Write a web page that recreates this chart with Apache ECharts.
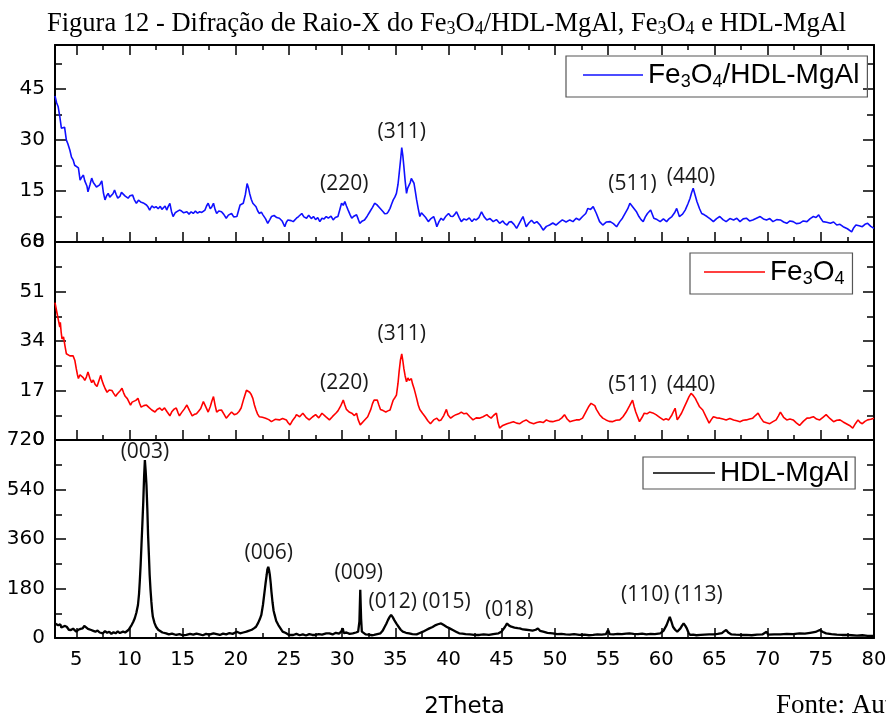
<!DOCTYPE html>
<html>
<head>
<meta charset="utf-8">
<title>Difração de Raio-X</title>
<script src="https://cdn.jsdelivr.net/npm/echarts@6/dist/echarts.min.js"></script>
<style>
  html, body { margin: 0; padding: 0; background: #fff; }
  #chart { width: 886px; height: 715px; }
</style>
</head>
<body>
<div id="chart"></div>
<script>
// 2θ range shared by the three panels
const twoThetaMin = 3;
const twoThetaMax = 80;
const xMajorTicks = [5, 10, 15, 20, 25, 30, 35, 40, 45, 50, 55, 60, 65, 70, 75, 80];
const xMinorTicks = [7.5, 12.5, 17.5, 22.5, 27.5, 32.5, 37.5, 42.5, 47.5, 52.5, 57.5, 62.5, 67.5, 72.5, 77.5];

// intensity axes (ticks and range) for each panel
const compositeYMax = 58;
const compositeYTicks = [0, 15, 30, 45];
const compositeYMinor = [7.5, 22.5, 37.5, 52.5];
const magnetiteYMax = 68;
const magnetiteYTicks = [0, 17, 34, 51, 68];
const magnetiteYMinor = [8.5, 25.5, 42.5, 59.5];
const ldhYMax = 720;
const ldhYTicks = [0, 180, 360, 540, 720];
const ldhYMinor = [90, 270, 450, 630];

// series names
const compositeName = 'Fe3O4/HDL-MgAl';
const magnetiteName = 'Fe3O4';
const ldhName = 'HDL-MgAl';

// diffractogram Fe3O4/HDL-MgAl: [2θ, intensity]
const compositeXrd = [
[3.0,43],[3.15,41],[3.3,39.8],[3.45,36.9],[3.6,33.5],[3.75,33],[3.9,33.8],[4.07,30],[4.2,29],[4.4,27],[4.55,25],[4.7,24.2],[4.85,22.6],[5.0,22.8],[5.2,21.8],[5.36,18.2],[5.5,19],[5.67,19.7],[5.8,18],[6.0,16.5],[6.1,14.8],[6.3,17],[6.45,18.8],[6.6,17.5],[6.76,17.3],[6.9,16.2],[7.05,15.9],[7.2,16.8],[7.4,18],[7.55,14.5],[7.7,12.4],[7.85,13.6],[8.0,14.3],[8.15,13.2],[8.3,13.3],[8.45,14.2],[8.6,15.3],[8.75,14],[8.9,12.9],[9.1,13.4],[9.25,14.6],[9.4,14.3],[9.6,13.5],[9.87,12.9],[10.05,13.6],[10.3,13.8],[10.45,12.5],[10.65,11.4],[10.85,12.3],[11.05,11.8],[11.3,11.5],[11.45,11.9],[11.6,10.9],[11.75,10.3],[11.9,9.4],[12.1,10.6],[12.3,10.1],[12.5,10.4],[12.7,9.8],[12.9,10.5],[13.05,9.6],[13.2,9.9],[13.35,10.6],[13.5,9.4],[13.65,10.5],[13.8,11.4],[13.95,9.0],[14.1,7.5],[14.3,8.6],[14.5,9.0],[14.7,9.4],[14.9,9.1],[15.1,8.6],[15.4,8.9],[15.6,8.2],[15.8,8.9],[16.0,8.4],[16.2,9.1],[16.4,8.5],[16.6,8.9],[16.8,8.7],[17.1,9.4],[17.25,10.6],[17.4,11.4],[17.6,9.8],[17.75,10.4],[17.9,11.4],[18.05,9.6],[18.2,8.4],[18.4,9.1],[18.65,8.9],[18.85,8.2],[19.1,7.0],[19.3,7.9],[19.6,8.4],[19.8,7.4],[20.1,7.5],[20.25,9.2],[20.4,10.9],[20.55,10.4],[20.7,11.4],[20.9,14],[21.06,17.2],[21.2,15.8],[21.3,14.3],[21.45,12.6],[21.6,11.4],[21.75,11.9],[21.9,10.4],[22.05,9.2],[22.2,8.4],[22.4,8.8],[22.55,8.0],[22.8,6.8],[23.0,5.5],[23.2,6.6],[23.35,7.5],[23.6,7.8],[23.85,7.2],[24.1,7.0],[24.35,6.2],[24.6,4.5],[24.75,5.8],[24.9,6.5],[25.0,6.5],[25.2,6.3],[25.4,6.0],[25.7,7.0],[25.9,7.5],[26.05,7.2],[26.2,8.4],[26.4,7.4],[26.65,7.0],[26.85,7.9],[27.1,6.9],[27.3,7.5],[27.5,6.6],[27.7,7.2],[27.9,6.0],[28.1,7.0],[28.3,6.8],[28.5,7.5],[28.7,7.0],[28.95,7.6],[29.15,6.5],[29.35,7.2],[29.6,7.5],[29.8,9.8],[29.94,11.4],[30.1,10.8],[30.25,11.9],[30.4,10.6],[30.56,9.4],[30.75,8.0],[30.9,7.0],[31.1,7.6],[31.35,8.0],[31.5,6.8],[31.65,5.5],[31.9,6.2],[32.1,6.5],[32.35,7.6],[32.6,8.9],[32.85,10.2],[33.05,11.4],[33.25,11.0],[33.4,10.9],[33.6,9.8],[33.85,8.9],[34.0,8.3],[34.2,8.4],[34.35,9.0],[34.5,9.9],[34.65,11.2],[34.8,12.4],[34.95,13.2],[35.1,14.3],[35.25,17.0],[35.36,20.2],[35.5,24.5],[35.6,27.8],[35.7,25.5],[35.8,22.2],[35.92,18],[36.05,14.3],[36.15,15.8],[36.3,16.3],[36.4,17.5],[36.5,18.7],[36.62,18.2],[36.75,17.3],[36.88,14.8],[37.0,12.4],[37.15,9.8],[37.3,7.5],[37.45,8.6],[37.6,8.4],[37.85,7.2],[38.1,6.0],[38.35,6.9],[38.6,7.5],[38.75,6.2],[38.9,4.5],[39.1,6.0],[39.3,7.0],[39.5,6.4],[39.75,7.6],[40.0,8.4],[40.2,7.6],[40.4,7.5],[40.6,8.2],[40.75,8.9],[41.0,7.2],[41.2,6.0],[41.45,6.8],[41.7,6.5],[41.95,7.1],[42.2,6.0],[42.4,6.8],[42.6,6.5],[42.85,7.2],[43.1,8.9],[43.35,7.4],[43.6,6.5],[43.9,6.9],[44.2,6.0],[44.5,6.6],[44.8,5.5],[45.1,6.2],[45.3,5.4],[45.5,5.0],[45.7,5.9],[45.9,6.0],[46.15,5.2],[46.4,4.0],[46.7,5.8],[47.0,7.5],[47.15,6.0],[47.3,4.5],[47.55,5.6],[47.8,6.4],[48.05,5.5],[48.3,6.0],[48.6,5.0],[48.9,3.5],[49.2,4.6],[49.5,5.0],[49.8,5.6],[50.1,5.0],[50.4,5.8],[50.7,6.5],[51.05,5.9],[51.4,6.5],[51.7,6.0],[52.0,7.0],[52.3,6.5],[52.6,7.5],[52.9,8.4],[53.1,9.9],[53.35,9.6],[53.6,10.4],[53.75,9.9],[53.9,8.4],[54.2,6.0],[54.5,5.0],[54.85,5.9],[55.2,6.0],[55.5,5.4],[55.8,4.5],[56.1,6.0],[56.35,7.0],[56.6,8.4],[56.85,9.8],[57.05,11.4],[57.25,10.6],[57.4,10.9],[57.65,9.0],[57.9,7.5],[58.1,6.6],[58.3,6.0],[58.5,7.4],[58.7,8.4],[59.0,9.4],[59.3,7.0],[59.6,6.6],[59.9,6.0],[60.2,6.8],[60.5,6.0],[60.75,6.9],[61.0,7.5],[61.25,8.6],[61.45,9.9],[61.7,7.5],[62.0,8.2],[62.25,9.4],[62.5,11.2],[62.7,12.8],[62.85,14.5],[63.0,15.8],[63.2,13.6],[63.35,11.9],[63.6,9.8],[63.8,8.4],[64.05,8.0],[64.3,7.5],[64.6,6.8],[64.9,6.0],[65.2,6.9],[65.5,7.5],[65.8,6.6],[66.1,6.0],[66.45,6.9],[66.8,6.5],[67.1,7.0],[67.4,6.0],[67.7,6.8],[68.0,7.0],[68.3,6.2],[68.6,6.5],[68.95,7.0],[69.3,7.5],[69.6,6.8],[69.9,6.5],[70.2,6.9],[70.5,6.0],[70.85,6.6],[71.2,6.5],[71.5,5.9],[71.8,5.5],[72.1,6.2],[72.4,6.0],[72.7,5.4],[73.0,5.5],[73.35,6.2],[73.7,6.0],[74.0,6.9],[74.3,7.5],[74.55,7.2],[74.8,8.0],[75.0,6.9],[75.2,6.0],[75.55,5.8],[75.9,5.5],[76.2,5.9],[76.5,5.0],[76.8,5.2],[77.1,4.5],[77.5,3.9],[77.9,3.0],[78.1,4.2],[78.3,5.0],[78.6,4.8],[78.9,4.5],[79.15,5.2],[79.4,5.5],[79.7,4.6],[80.0,4.0]
];

// diffractogram Fe3O4: [2θ, intensity]
const magnetiteXrd = [
[3.0,47.2],[3.15,44.3],[3.3,41.5],[3.45,38.8],[3.5,40.4],[3.58,37],[3.66,34.7],[3.8,35.4],[3.93,32.5],[4.07,29.6],[4.2,29.8],[4.4,28.9],[4.55,29.4],[4.7,28.9],[4.87,27.3],[5.0,24.5],[5.1,22.6],[5.2,21.1],[5.35,22.4],[5.5,21.8],[5.65,21.4],[5.8,20.5],[5.95,21.6],[6.1,23.4],[6.28,21.2],[6.45,19.7],[6.6,20.6],[6.77,19.1],[6.95,18.4],[7.1,17.8],[7.3,22.2],[7.42,20.4],[7.55,19.1],[7.72,17.6],[7.9,16.4],[8.1,17.2],[8.35,17.0],[8.5,16.1],[8.7,15.0],[8.85,15.8],[9.0,16.4],[9.15,17.0],[9.3,17.8],[9.45,16.2],[9.6,15.0],[9.8,14.2],[9.95,13.1],[10.1,12.0],[10.25,13.0],[10.4,12.7],[10.6,13.6],[10.8,14.3],[10.95,12.6],[11.1,11.3],[11.35,11.8],[11.6,12.0],[11.85,11.1],[12.1,10.3],[12.25,10.8],[12.4,9.6],[12.6,10.5],[12.85,11.0],[13.05,10.2],[13.3,11.0],[13.55,9.6],[13.8,8.3],[14.0,9.8],[14.2,10.6],[14.4,11.0],[14.55,9.5],[14.7,8.3],[14.9,9.4],[15.15,10.6],[15.4,12.0],[15.65,10.1],[15.9,8.3],[16.1,8.8],[16.3,9.0],[16.5,9.9],[16.7,10.8],[16.95,13.2],[17.2,11.2],[17.4,9.6],[17.6,11.5],[17.75,13.4],[17.9,14.9],[18.05,12.0],[18.2,9.6],[18.4,10.2],[18.65,10.3],[18.9,8.8],[19.1,7.5],[19.35,8.6],[19.6,9.6],[19.85,8.7],[20.1,9.0],[20.3,9.8],[20.5,11.0],[20.75,14.2],[21.0,17.1],[21.15,16.8],[21.3,16.4],[21.45,15.6],[21.6,14.3],[21.75,12.0],[21.9,10.3],[22.05,8.9],[22.2,8.0],[22.5,7.8],[22.8,7.5],[23.1,7.0],[23.35,6.3],[23.7,7.1],[24.1,6.9],[24.4,7.4],[24.75,6.9],[24.9,6.0],[25.1,5.2],[25.35,6.8],[25.6,8.0],[25.7,8.7],[26.0,8.0],[26.3,9.2],[26.6,7.8],[26.9,6.9],[27.2,7.9],[27.5,8.7],[27.8,7.6],[28.1,9.2],[28.45,8.0],[28.8,6.9],[29.1,8.1],[29.4,9.2],[29.6,10.0],[29.85,11.6],[30.1,13.7],[30.25,12.0],[30.4,10.5],[30.65,9.6],[30.9,9.2],[31.15,8.4],[31.35,9.2],[31.5,7.0],[31.7,5.2],[32.05,6.6],[32.4,8.0],[32.7,10.6],[32.85,12.5],[33.0,13.7],[33.15,13.2],[33.3,13.7],[33.45,12.0],[33.6,10.5],[33.85,10.1],[34.1,9.6],[34.3,10.0],[34.5,10.3],[34.65,12.0],[34.8,13.7],[34.95,14.5],[35.1,15.4],[35.25,19.5],[35.35,23.4],[35.48,27.5],[35.6,29.6],[35.7,27.3],[35.8,24.5],[35.92,22],[36.05,20.0],[36.18,21.3],[36.3,20.5],[36.4,20.0],[36.5,21.1],[36.62,19.2],[36.75,17.8],[36.88,16.0],[37.0,14.3],[37.15,12.0],[37.3,10.5],[37.55,9.2],[37.8,8.0],[38.05,6.6],[38.3,5.6],[38.6,6.9],[38.9,7.5],[39.1,6.6],[39.3,6.9],[39.55,8.4],[39.8,10.5],[39.95,8.6],[40.2,7.5],[40.45,8.2],[40.7,8.7],[40.95,9.0],[41.2,9.6],[41.45,9.0],[41.7,9.2],[42.0,8.0],[42.3,6.9],[42.6,7.6],[42.9,7.5],[43.25,8.0],[43.6,8.7],[43.8,8.0],[44.0,7.5],[44.25,8.5],[44.5,9.2],[44.65,6.0],[44.8,4.1],[45.1,5.0],[45.5,5.6],[45.8,5.9],[46.1,6.3],[46.4,5.8],[46.7,5.6],[47.0,6.4],[47.3,6.9],[47.65,6.0],[48.0,5.6],[48.3,6.0],[48.6,6.3],[48.9,6.0],[49.2,6.9],[49.5,6.4],[49.8,6.3],[50.1,6.6],[50.4,6.9],[50.65,7.6],[50.9,8.7],[51.15,7.2],[51.4,6.3],[51.7,6.6],[52.0,6.9],[52.3,6.9],[52.6,7.5],[52.9,9.6],[53.2,11.6],[53.4,12.6],[53.55,13.2],[53.75,11.8],[53.9,10.5],[54.2,8.7],[54.5,7.5],[54.8,6.9],[55.1,6.4],[55.4,6.3],[55.75,6.8],[56.1,6.9],[56.4,8.0],[56.7,9.6],[57.0,11.6],[57.3,13.7],[57.45,11.5],[57.6,9.6],[57.95,6.3],[58.2,7.8],[58.4,9.2],[58.65,9.0],[58.9,9.6],[59.2,9.3],[59.5,8.7],[59.85,7.8],[60.2,6.9],[60.45,7.3],[60.7,6.9],[61.0,8.6],[61.3,10.9],[61.5,6.9],[61.7,8.0],[61.9,9.2],[62.15,11.2],[62.4,13.2],[62.6,14.8],[62.8,16.0],[63.0,15.3],[63.2,14.3],[63.4,12.8],[63.6,11.4],[63.9,10.3],[64.2,8.0],[64.5,5.8],[64.7,7.0],[64.9,8.0],[65.2,7.6],[65.5,7.5],[65.8,7.2],[66.1,6.9],[66.45,7.4],[66.8,6.9],[67.1,6.6],[67.4,6.3],[67.7,6.8],[68.0,6.9],[68.3,7.2],[68.6,7.5],[68.85,8.4],[69.1,9.2],[69.35,7.6],[69.6,6.3],[69.9,5.9],[70.2,5.6],[70.5,6.3],[70.8,6.9],[71.0,8.2],[71.2,9.6],[71.5,7.8],[71.8,6.9],[72.1,7.2],[72.4,6.9],[72.7,5.9],[73.0,5.0],[73.35,6.4],[73.7,7.5],[74.0,7.6],[74.3,8.0],[74.6,7.2],[74.9,6.9],[75.2,7.8],[75.5,8.7],[75.85,7.4],[76.2,6.3],[76.5,6.8],[76.8,6.9],[77.1,6.2],[77.4,5.6],[77.7,5.0],[78.0,4.1],[78.25,5.6],[78.5,6.9],[78.7,6.0],[78.9,5.6],[79.15,6.4],[79.4,6.9],[79.7,7.1],[80.0,7.5]
];

// diffractogram HDL-MgAl: [2θ, intensity]
const ldhXrd = [
[3.0,53],[3.15,60],[3.3,46],[3.5,50],[3.6,38],[3.75,35],[3.9,44],[4.1,41],[4.3,30],[4.5,29],[4.7,34],[5.0,23],[5.2,30],[5.4,33],[5.6,35],[5.75,44],[5.9,41],[6.1,33],[6.4,29],[6.6,26],[6.8,23],[7.0,27],[7.2,20],[7.5,17],[7.7,25],[7.9,19],[8.1,23],[8.3,15],[8.5,21],[8.7,17],[8.9,24],[9.1,18],[9.4,23],[9.6,20],[9.9,29],[10.05,35],[10.2,47],[10.35,58],[10.5,72],[10.65,92],[10.8,120],[10.9,160],[10.97,205],[11.05,265],[11.13,338],[11.22,420],[11.3,496],[11.38,590],[11.45,647],[11.52,610],[11.6,556],[11.68,470],[11.75,375],[11.83,300],[11.9,229],[11.98,175],[12.06,132],[12.13,100],[12.2,77],[12.35,55],[12.5,41],[12.7,30],[12.85,23],[13.1,20],[13.45,17],[13.7,13],[14.0,16],[14.4,11],[14.7,14],[15.0,10],[15.35,11],[15.7,15],[16.0,12],[16.3,16],[16.6,13],[16.9,10],[17.2,15],[17.5,12],[17.9,17],[18.2,14],[18.5,11],[18.8,16],[19.1,13],[19.4,18],[19.7,15],[20.1,23],[20.4,17],[20.7,20],[21.0,23],[21.2,26],[21.5,30],[21.7,35],[21.9,41],[22.1,55],[22.25,68],[22.4,84],[22.55,120],[22.7,168],[22.8,200],[22.9,229],[22.97,250],[23.05,259],[23.12,248],[23.2,229],[23.28,200],[23.35,168],[23.45,130],[23.55,100],[23.65,84],[23.8,62],[24.0,47],[24.2,35],[24.4,23],[24.7,18],[25.0,11],[25.4,11],[25.7,15],[26.0,10],[26.3,13],[26.6,9],[26.9,14],[27.2,11],[27.5,11],[27.8,14],[28.1,12],[28.5,17],[28.8,17],[29.1,13],[29.4,19],[29.7,16],[29.9,23],[30.05,35],[30.15,18],[30.4,20],[30.7,15],[31.0,17],[31.3,20],[31.5,23],[31.62,60],[31.7,175],[31.78,70],[31.85,23],[32.0,16],[32.2,13],[32.5,12],[32.8,10],[33.0,11],[33.3,14],[33.6,17],[33.8,26],[34.0,41],[34.15,52],[34.3,65],[34.45,76],[34.6,84],[34.75,76],[34.9,65],[35.1,52],[35.3,41],[35.5,30],[35.7,23],[36.0,19],[36.3,17],[36.6,14],[37.0,13],[37.3,18],[37.6,23],[37.9,29],[38.2,35],[38.5,40],[38.8,47],[39.0,50],[39.3,53],[39.55,47],[39.8,41],[40.1,35],[40.4,29],[40.7,23],[41.0,17],[41.3,16],[41.6,14],[42.0,13],[42.4,11],[42.9,11],[43.3,13],[43.8,11],[44.2,14],[44.7,17],[45.0,24],[45.3,40],[45.5,53],[45.7,45],[45.9,41],[46.2,38],[46.5,36],[46.7,35],[47.0,31],[47.3,30],[47.6,29],[47.9,27],[48.2,30],[48.4,35],[48.6,26],[48.9,23],[49.3,19],[49.8,17],[50.2,14],[50.6,15],[51.0,13],[51.4,12],[51.8,14],[52.3,11],[52.8,12],[53.2,10],[53.6,11],[54.0,13],[54.4,12],[54.8,14],[55.0,29],[55.15,14],[55.5,13],[55.9,15],[56.3,14],[56.7,16],[57.0,17],[57.4,15],[57.8,14],[58.2,16],[58.6,13],[59.0,15],[59.4,14],[59.9,17],[60.2,26],[60.5,47],[60.65,62],[60.8,77],[60.95,60],[61.1,41],[61.3,30],[61.5,23],[61.65,28],[61.8,35],[61.95,45],[62.1,53],[62.25,45],[62.4,35],[62.55,20],[62.7,11],[63.0,12],[63.3,10],[63.7,11],[64.1,12],[64.5,13],[64.95,13],[65.3,15],[65.7,18],[65.9,24],[66.1,29],[66.3,20],[66.6,13],[67.0,12],[67.5,11],[68.0,11],[68.5,10],[69.0,12],[69.5,13],[69.9,23],[70.05,12],[70.6,13],[71.2,13],[71.8,15],[72.4,14],[73.0,17],[73.5,16],[74.0,19],[74.5,22],[74.9,29],[75.2,22],[75.5,17],[76.0,14],[76.5,12],[77.0,11],[77.4,11],[77.9,10],[78.4,9],[78.9,10],[79.4,8],[80.0,8]
];

// Miller-index annotations: [text, 2θ, intensity at the text centre]
const compositePeakLabels = [['(220)', 30.2, 17.1], ['(311)', 35.6, 32.4], ['(511)', 57.3, 17.1], ['(440)', 62.8, 19.0]];
const magnetitePeakLabels = [['(220)', 30.2, 19.4], ['(311)', 35.6, 36.4], ['(511)', 57.3, 19.0], ['(440)', 62.8, 19.0]];
const ldhPeakLabels = [['(003)', 11.45, 676], ['(006)', 23.1, 309], ['(009)', 31.55, 236], ['(012)', 34.75, 131],
                       ['(015)', 39.8, 131], ['(018)', 45.7, 102], ['(110)', 58.5, 156], ['(113)', 63.5, 156]];

// ---------------------------------------------------------------------------

const tickFont = 'DejaVu Sans';
const legendFont = 'Liberation Sans';
const hklFont = 'Open Sans';
const serifFont = 'Liberation Serif';

const panels = [
  { top: 45,  height: 197, yMax: compositeYMax, yTicks: compositeYTicks, yMinor: compositeYMinor,
    topTicks: true,  xLabels: false, name: compositeName, data: compositeXrd, color: '#1010ff', width: 1.6,
    labels: compositePeakLabels, legendPos: { left: 566, top: 56 }, legendPad: [5, 8, 6, 17], legendItemW: 60 },
  { top: 242, height: 198, yMax: magnetiteYMax, yTicks: magnetiteYTicks, yMinor: magnetiteYMinor,
    topTicks: false, xLabels: false, name: magnetiteName, data: magnetiteXrd, color: '#ff0000', width: 1.6,
    labels: magnetitePeakLabels, legendPos: { left: 690, top: 253 }, legendPad: [5, 8, 6, 14], legendItemW: 61 },
  { top: 440, height: 198, yMax: ldhYMax, yTicks: ldhYTicks, yMinor: ldhYMinor,
    topTicks: false, xLabels: true, name: ldhName, data: ldhXrd, color: '#000000', width: 2.3,
    labels: ldhPeakLabels, legendPos: { left: 643, top: 457 }, legendPad: [2, 6, 2, 10], legendItemW: 62 }
];

const lineColor = '#000';

function xAxisDef(gi, position, values, len, showLine, showLabel, extra) {
  return Object.assign({
    type: 'value', gridIndex: gi, position: position,
    min: twoThetaMin, max: twoThetaMax,
    splitLine: { show: false },
    axisLine: { show: showLine, onZero: false, lineStyle: { color: lineColor, width: 2 } },
    axisTick: { show: true, inside: true, length: len, customValues: values,
                lineStyle: { color: lineColor, width: 1.5 } },
    axisLabel: { show: showLabel, customValues: values, margin: 12,
                 fontFamily: tickFont, fontSize: 19.5, color: '#000' }
  }, extra || {});
}

function yAxisDef(gi, position, p, values, len, showLine, showLabel) {
  return {
    type: 'value', gridIndex: gi, position: position,
    min: 0, max: p.yMax,
    splitLine: { show: false },
    axisLine: { show: showLine, onZero: false, lineStyle: { color: lineColor, width: 2 } },
    axisTick: { show: true, inside: true, length: len, customValues: values,
                lineStyle: { color: lineColor, width: 1.5 } },
    axisLabel: { show: showLabel, customValues: values, margin: 10,
                 fontFamily: tickFont, fontSize: 20, color: '#000' }
  };
}

// turns "Fe3O4" into rich text with the digits as subscripts
function legendRich(name) {
  return name.replace(/(\d)/g, '}{s|$1}{n|').replace(/^/, '{n|').replace(/$/, '}').replace(/\{n\|\}/g, '');
}

const grids = [], xAxes = [], yAxes = [], series = [], legends = [];

panels.forEach((p, gi) => {
  // fixed plot rectangles: labels and the axis name may sit outside them
  grids.push({ left: 55, right: 12, top: p.top, height: p.height,
               containLabel: false, outerBoundsMode: 'none' });

  const xi = xAxes.length;
  xAxes.push(xAxisDef(gi, 'bottom', xMajorTicks, 10, true, p.xLabels, p.xLabels ? {
    name: '2Theta', nameLocation: 'middle', nameGap: 58,
    nameTextStyle: { fontFamily: tickFont, fontSize: 23, color: '#000' }
  } : null));
  xAxes.push(xAxisDef(gi, 'bottom', xMinorTicks, 5, false, false));
  xAxes.push(xAxisDef(gi, 'top', p.topTicks ? xMajorTicks : [], 10, true, false));
  xAxes.push(xAxisDef(gi, 'top', p.topTicks ? xMinorTicks : [], 5, false, false));

  const yi = yAxes.length;
  yAxes.push(yAxisDef(gi, 'left', p, p.yTicks, 11, true, true));
  yAxes.push(yAxisDef(gi, 'left', p, p.yMinor, 7, false, false));
  yAxes.push(yAxisDef(gi, 'right', p, p.yTicks, 11, true, false));
  yAxes.push(yAxisDef(gi, 'right', p, p.yMinor, 7, false, false));

  series.push({
    name: p.name, type: 'line', xAxisIndex: xi, yAxisIndex: yi,
    data: p.data, symbol: 'none', showSymbol: false, smooth: false,
    color: p.color, lineStyle: { color: p.color, width: p.width },
    clip: true, animation: false,
    markPoint: {
      symbol: 'circle', symbolSize: 0, animation: false, silent: true,
      label: { show: true, position: 'inside', formatter: '{b}',
               fontFamily: hklFont, fontSize: 21, color: '#1a1a1a' },
      data: p.labels.map(l => ({ name: l[0], coord: [l[1], l[2]] }))
    }
  });

  legends.push({
    data: [p.name], left: p.legendPos.left, top: p.legendPos.top,
    orient: 'horizontal', selectedMode: false,
    padding: p.legendPad, borderColor: '#555', borderWidth: 1.2, borderRadius: 0,
    icon: 'rect', itemWidth: p.legendItemW, itemHeight: 1.4,
    formatter: legendRich,
    textStyle: {
      color: '#000', fontFamily: legendFont, fontSize: 28,
      rich: {
        n: { fontFamily: legendFont, fontSize: 28, lineHeight: 32, color: '#000' },
        s: { fontFamily: legendFont, fontSize: 18, lineHeight: 8, verticalAlign: 'bottom', color: '#000' }
      }
    }
  });
});

const chart = echarts.init(document.getElementById('chart'), null, { renderer: 'canvas' });
chart.setOption({
  animation: false,
  backgroundColor: '#fff',
  title: [
    {
      text: '{t|Figura 12 - Difração de Raio-X do Fe}{s|3}{t|O}{s|4}{t|/HDL-MgAl, Fe}{s|3}{t|O}{s|4}{t| e HDL-MgAl}',
      left: 47, top: 10, padding: 0,
      textStyle: {
        fontWeight: 'normal',
        rich: {
          t: { fontFamily: serifFont, fontSize: 26.5, fontWeight: 'normal', lineHeight: 28, color: '#000' },
          s: { fontFamily: serifFont, fontSize: 18, fontWeight: 'normal', lineHeight: 18, verticalAlign: 'bottom', color: '#000' }
        }
      }
    },
    {
      text: 'Fonte: Autor', left: 776, top: 692, padding: 0,
      textStyle: { fontFamily: serifFont, fontSize: 27, fontWeight: 'normal', color: '#000' }
    }
  ],
  grid: grids,
  xAxis: xAxes,
  yAxis: yAxes,
  legend: legends,
  series: series
});
</script>
</body>
</html>
